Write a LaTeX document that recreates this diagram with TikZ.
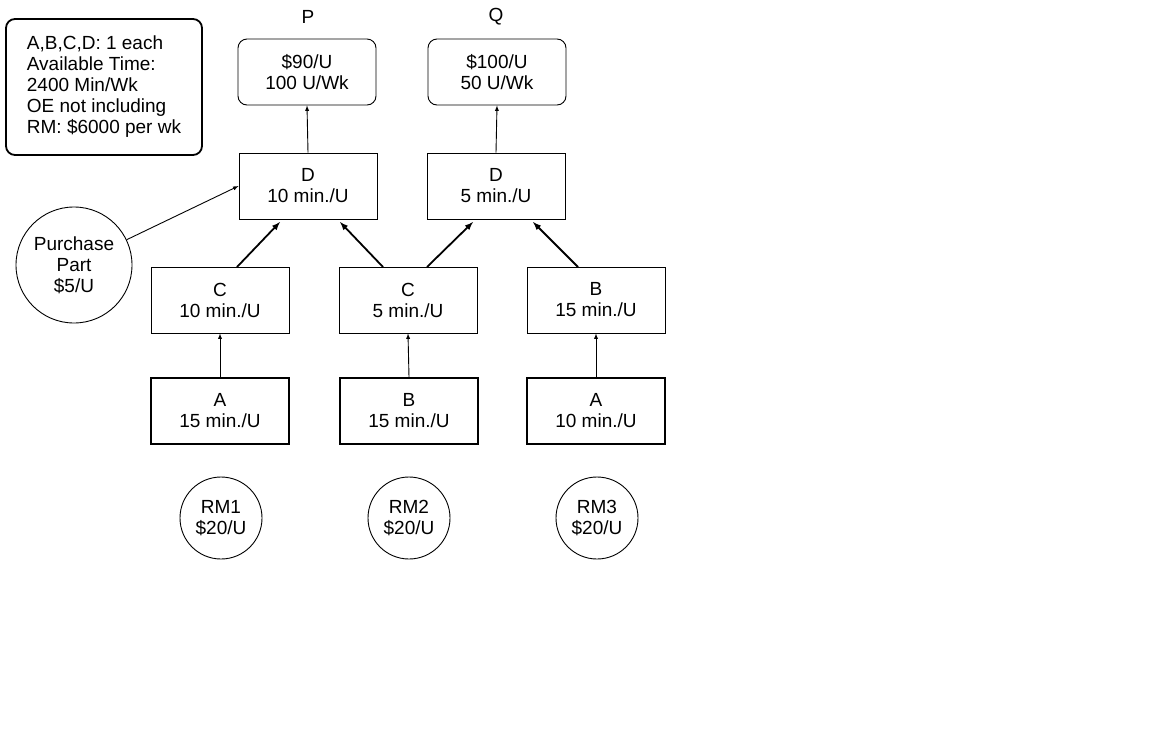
\documentclass[tikz,border=0pt]{standalone}
\usepackage{fontspec}
\setmainfont{Liberation Sans}
\begin{document}
\begin{tikzpicture}[x=1pt,y=-1pt,
  every node/.style={font=\fontsize{19}{21}\selectfont, align=center, inner sep=0pt},
  box/.style={draw, line width=0.9pt, minimum width=138pt, minimum height=66pt},
  tbox/.style={box, line width=1.8pt},
  rbox/.style={box, rounded corners=9pt},
  circ/.style={draw, circle, line width=0.9pt, minimum size=82pt},
  arr/.style={-latex, line width=1.2pt}]
\useasboundingbox (0,0) rectangle (1176,745);
\node[draw, line width=1.8pt, rounded corners=9pt, minimum width=196pt, minimum height=136pt, align=left] (note) at (104,87) {A,B,C,D: 1 each\\Available Time:\\2400 Min/Wk\\OE not including\\RM: \$6000 per wk};
\node (pl) at (308,17) {P};
\node (ql) at (496,17) {Q};
\node[rbox] (p) at (307,72) {\$90/U\\100 U/Wk};
\node[rbox] (q) at (497,72) {\$100/U\\50 U/Wk};
\node[box] (d1) at (308,186) {D\\10 min./U};
\node[box] (d2) at (496,186) {D\\5 min./U};
\node[box] (c1) at (220,300) {C\\10 min./U};
\node[box] (c2) at (408,300) {C\\5 min./U};
\node[box] (b1) at (596,300) {B\\15 min./U};
\node[tbox] (a1) at (220,411) {A\\15 min./U};
\node[tbox] (b2) at (409,411) {B\\15 min./U};
\node[tbox] (a2) at (596,411) {A\\10 min./U};
\node[circ] (rm1) at (221,518) {RM1\\\$20/U};
\node[circ] (rm2) at (409,518) {RM2\\\$20/U};
\node[circ] (rm3) at (597,518) {RM3\\\$20/U};
\node[circ, minimum size=116pt] (pp) at (74,265) {Purchase\\Part\\\$5/U};
\draw[arr, line width=0.9pt] (a1.north) -- (c1.south);
\draw[arr, line width=0.9pt] (b2.north) -- (c2.south);
\draw[arr, line width=0.9pt] (a2.north) -- (b1.south);
\draw[arr, line width=0.9pt] (d1.north) -- (p.south);
\draw[arr, line width=0.9pt] (d2.north) -- (q.south);
\draw[arr, line width=1.8pt] (237,267) -- (280,222);
\draw[arr, line width=1.8pt] (383,267) -- (340,222);
\draw[arr, line width=1.8pt] (427,267) -- (473,222);
\draw[arr, line width=1.8pt] (578,267) -- (533,222);
\draw[arr, line width=0.9pt] (pp) -- (d1.west);
\end{tikzpicture}
\end{document}
